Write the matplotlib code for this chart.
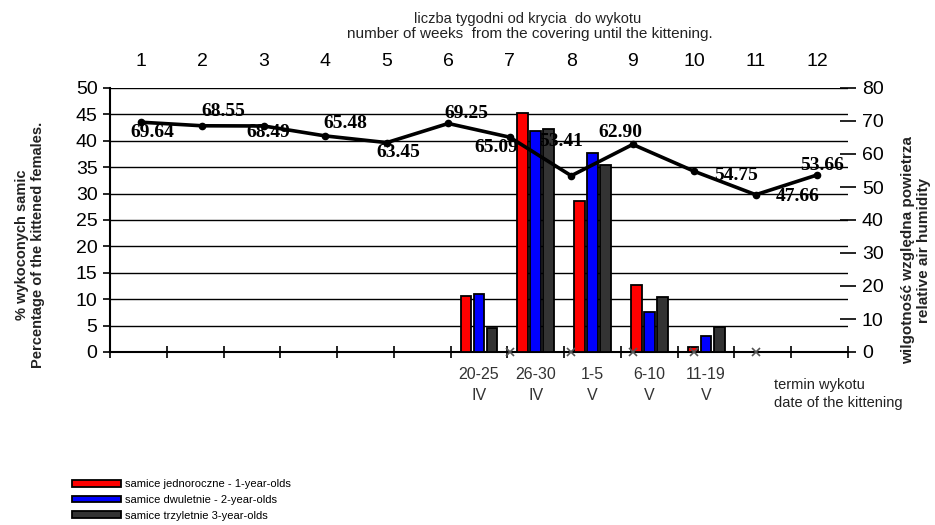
import matplotlib.pyplot as plt
import numpy as np

plt.rcParams['font.family'] = ['Liberation Sans', 'DejaVu Sans']

# tygodnie od krycia do wykotu / wilgotnosc wzgledna powietrza
weeks = [1, 2, 3, 4, 5, 6, 7, 8, 9, 10, 11, 12]
humidity = [69.64, 68.55, 68.49, 65.48, 63.45, 69.25, 65.09, 53.41, 62.90, 54.75, 47.66, 53.66]
zero_weeks = [7, 8, 9, 10, 11]

# terminy wykotu (13 przedzialow na dolnej osi, slupki w 7-11)
date_labels = ['20-25\nIV', '26-30\nIV', '1-5\nV', '6-10\nV', '11-19\nV']
date_slots = [6, 7, 8, 9, 10]
n_slots = 13
one_year = [10.6, 45.3, 28.6, 12.7, 1.0]
two_year = [10.9, 41.8, 37.7, 7.6, 3.0]
three_year = [4.6, 42.2, 35.4, 10.5, 4.7]

fig = plt.figure(figsize=(9.35, 5.25), dpi=100)
ax = fig.add_axes([110/935, 1-352/525, 738/935, 264/525])

x = np.array(date_slots) + 0.5
w = 0.19
kw = dict(edgecolor='black', linewidth=1.3, zorder=3)
b1 = ax.bar(x - 0.23, one_year, w, color='#ff0000', label='samice jednoroczne - 1-year-olds', **kw)
b2 = ax.bar(x, two_year, w, color='#0000ff', label='samice dwuletnie - 2-year-olds', **kw)
b3 = ax.bar(x + 0.23, three_year, w, color='#333333', label='samice trzyletnie 3-year-olds', **kw)

ax.set_xlim(0, n_slots)
ax.set_ylim(0, 50)
ax.set_yticks(np.arange(0, 51, 5))
ax.yaxis.grid(True, color='black', linewidth=1.0, zorder=0)
ax.set_axisbelow(True)
ax.set_xticks(np.arange(0, n_slots + 1))
ax.set_xticklabels([])
ax.set_xticks(x, minor=True)
ax.set_xticklabels(date_labels, minor=True, fontsize=11.5, color='#333333', linespacing=1.45)
ax.tick_params(axis='x', which='major', direction='inout', length=9, width=1.2)
ax.tick_params(axis='x', which='minor', length=0, pad=11)
ax.tick_params(axis='y', direction='out', length=5, width=1.2, labelsize=14, pad=4)
for s in ['top', 'right']:
    ax.spines[s].set_visible(False)
for s in ['left', 'bottom']:
    ax.spines[s].set_linewidth(1.5)

fig.text(30/935, 1-245/525, '% wykoconych samic\nPercentage of the kittened females.',
         rotation=90, ha='center', va='center',
         fontsize=10.5, fontweight='bold', color='#222222', linespacing=1.1)

# druga os: tygodnie + wilgotnosc
ax2 = fig.add_axes(ax.get_position(), frameon=False)
ax2.set_xlim(0.5, len(weeks) + 0.5)
ax2.set_ylim(0, 80)
ax2.plot(weeks, humidity, color='black', linewidth=2.6, marker='o', markersize=4.5, zorder=4)
ax2.plot(zero_weeks, [0] * len(zero_weeks), linestyle='none', marker='x',
         markersize=6, markeredgewidth=1.2, color='#555555', zorder=4, clip_on=False)
ax2.xaxis.tick_top()
ax2.set_xticks(weeks)
ax2.tick_params(axis='x', length=0, labelsize=14, pad=13)
ax2.yaxis.tick_right()
ax2.set_yticks(np.arange(0, 81, 10))
ax2.tick_params(axis='y', direction='inout', length=12, width=1.2, labelsize=14, pad=4)
ax2.spines['right'].set_visible(True)
ax2.spines['right'].set_linewidth(1.5)
ax2.patch.set_visible(False)

# przesuniecia etykiet (piksele)
offsets = [(12, -10), (21, 14), (5, -7), (20, 12), (12, -10), (18, 10),
           (-13, -10), (-10, 34), (-12, 12), (42, -4), (42, -2), (5, 9)]
for wk, h, (dx, dy) in zip(weeks, humidity, offsets):
    ax2.annotate(f'{h:.2f}', (wk, h), xytext=(dx / 1.389, dy / 1.389), textcoords='offset points',
                 ha='center', va='center',
                 family=['Liberation Serif', 'DejaVu Serif'], fontweight='bold', fontsize=14, zorder=5)

fig.text(916/935, 1-250/525, 'wilgotność względna powietrza\nrelative air humidity',
         rotation=90, ha='center', va='center',
         fontsize=11, fontweight='bold', color='#222222', linespacing=1.1)

fig.text(528/935, 1-19/525, 'liczba tygodni od krycia  do wykotu', ha='center', va='center',
         fontsize=10.5, color='#222222')
fig.text(530/935, 1-34/525, 'number of weeks  from the covering until the kittening.', ha='center',
         va='center', fontsize=11, color='#222222')
fig.text(774/935, 1-394/525, 'termin wykotu\ndate of the kittening', ha='left', va='center',
         fontsize=10.5, color='#222222', linespacing=1.4)

fig.legend(handles=[b1, b2, b3], loc='upper left', bbox_to_anchor=(68/935, 1-475/525),
           frameon=False, fontsize=8, handlelength=4.4, handleheight=0.5,
           labelspacing=0.5, handletextpad=0.3, borderaxespad=0)

fig.savefig('out.png', dpi=100)
